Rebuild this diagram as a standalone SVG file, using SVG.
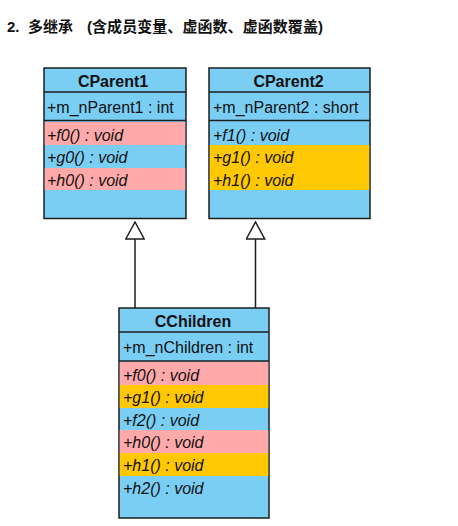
<svg xmlns="http://www.w3.org/2000/svg" width="458" height="526" viewBox="0 0 458 526">
<style>
.box{fill:#7acef4;stroke:#1e1e1e;stroke-width:1.5}
.sep{stroke:#1e1e1e;stroke-width:1.3}
.pink{fill:#ffa9aa}
.yel{fill:#ffc800}
.t{font-family:"Liberation Sans",Arial,sans-serif;font-size:16px;fill:#111}
.tb{font-family:"Liberation Sans",Arial,sans-serif;font-size:16px;font-weight:bold;fill:#111;text-anchor:middle}
.m{font-family:"Liberation Sans",Arial,sans-serif;font-size:16px;font-style:italic;fill:#111}
.h{font-family:"Liberation Sans","Noto Sans CJK SC",sans-serif;font-size:15px;font-weight:bold;fill:#111}
.ln{stroke:#1e1e1e;stroke-width:1.5;fill:none}
</style>
<defs>
<marker id="tri" markerUnits="userSpaceOnUse" viewBox="0 0 19 20" markerWidth="19" markerHeight="20" refX="17.5" refY="10" orient="auto">
<path d="M17.5,10 L0.5,0.8 L0.5,19.2 Z" fill="#fff" stroke="#1e1e1e" stroke-width="1.5"/>
</marker>
</defs>
<rect width="458" height="526" fill="#fff"/>
<text class="h" y="32"><tspan x="7">2.</tspan><tspan x="28">多继承</tspan><tspan x="87" textLength="236" lengthAdjust="spacing">(含成员变量、虚函数、虚函数覆盖)</tspan></text>

<g id="connectors">
<line class="ln" x1="135" y1="308" x2="135" y2="222" marker-end="url(#tri)"/>
<line class="ln" x1="255.5" y1="308" x2="255.5" y2="222" marker-end="url(#tri)"/>
</g>

<g id="CParent1">
<rect class="box" x="44" y="68" width="142" height="150.5"/>
<rect class="pink" x="44.75" y="122" width="140.5" height="23"/>
<rect class="pink" x="44.75" y="168" width="140.5" height="22"/>
<line class="sep" x1="44" y1="92" x2="186" y2="92"/>
<line class="sep" x1="44" y1="120.5" x2="186" y2="120.5"/>
<text class="tb" x="113" y="86.5">CParent1</text>
<text class="t" x="47" y="112.5">+m_nParent1 : int</text>
<text class="m" x="47" y="140.5">+f0() : void</text>
<text class="m" x="47" y="163">+g0() : void</text>
<text class="m" x="47" y="185.5">+h0() : void</text>
</g>

<g id="CParent2">
<rect class="box" x="209" y="68" width="161" height="150.5"/>
<rect class="yel" x="209.75" y="145" width="159.5" height="45"/>
<line class="sep" x1="209" y1="92" x2="370" y2="92"/>
<line class="sep" x1="209" y1="120.5" x2="370" y2="120.5"/>
<text class="tb" x="288.5" y="86.5">CParent2</text>
<text class="t" x="213" y="112.5">+m_nParent2 : short</text>
<text class="m" x="213" y="140.5">+f1() : void</text>
<text class="m" x="213" y="163">+g1() : void</text>
<text class="m" x="213" y="185.5">+h1() : void</text>
</g>

<g id="CChildren">
<rect class="box" x="119" y="308" width="150" height="210"/>
<rect class="pink" x="119.75" y="362" width="148.5" height="23"/>
<rect class="yel" x="119.75" y="385" width="148.5" height="23"/>
<rect class="pink" x="119.75" y="430" width="148.5" height="23"/>
<rect class="yel" x="119.75" y="453" width="148.5" height="23"/>
<line class="sep" x1="119" y1="332" x2="269" y2="332"/>
<line class="sep" x1="119" y1="361" x2="269" y2="361"/>
<text class="tb" x="193" y="326.5">CChildren</text>
<text class="t" x="123" y="352.5">+m_nChildren : int</text>
<text class="m" x="123" y="380.5">+f0() : void</text>
<text class="m" x="123" y="403">+g1() : void</text>
<text class="m" x="123" y="425.5">+f2() : void</text>
<text class="m" x="123" y="448">+h0() : void</text>
<text class="m" x="123" y="471">+h1() : void</text>
<text class="m" x="123" y="493.5">+h2() : void</text>
</g>
</svg>
